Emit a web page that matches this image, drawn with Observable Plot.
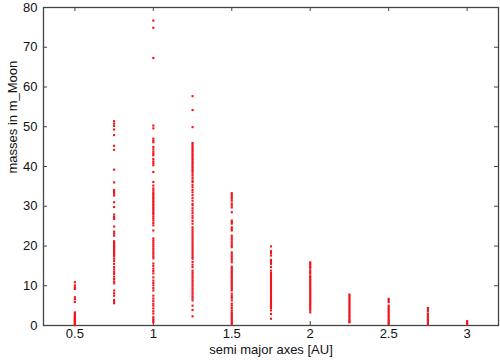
<!DOCTYPE html>
<html>
<head>
<meta charset="utf-8">
<script src="https://cdn.jsdelivr.net/npm/d3@7"></script>
<script src="https://cdn.jsdelivr.net/npm/@observablehq/plot@0.6"></script>
<style>
  html, body { margin: 0; padding: 0; background: #fff; }
  #chart { width: 500px; height: 360px; }
</style>
</head>
<body>
<div id="chart"></div>
<script>
// semi major axes (AU) and the masses (m_Moon) found at each
const axesAU = [0.5, 0.75, 1, 1.25, 1.5, 1.75, 2, 2.25, 2.5, 2.75, 3];

const m050 = [10.9, 10.1, 9.6, 9.2, 7.1, 6.6, 5.9, 3.3, 3.0, 2.7, 2.5, 2.2, 2.0, 1.8, 1.6, 1.4, 1.2, 1.0, 0.8, 0.6, 0.4, 0.2, 0.1];
const m075 = [51.4, 50.8, 50.2, 49.3, 47.9, 45.2, 44.2, 39.2, 36.0, 34.1, 33.6, 33.2, 32.7, 31.0, 29.8, 27.9, 27.3, 26.8, 24.9, 23.6, 23.1, 22.6, 21.2, 20.9, 20.6, 20.2, 19.9, 19.6, 19.2, 18.9, 18.5, 18.1, 17.8, 17.4, 16.8, 16.2, 15.5, 14.7, 14.1, 13.5, 13.0, 12.3, 11.7, 11.1, 10.6, 8.8, 8.1, 7.5, 6.4, 6.0, 5.6];
const m100 = [76.7, 74.9, 67.3, 50.3, 49.6, 47.0, 46.5, 46.1, 44.9, 44.3, 43.7, 43.2, 42.8, 41.9, 41.3, 40.8, 40.3, 38.6, 36.1, 35.2, 34.5, 34.0, 33.5, 33.1, 32.7, 32.3, 31.9, 31.5, 31.1, 30.7, 30.3, 29.9, 29.5, 29.1, 28.7, 28.3, 27.9, 27.4, 26.9, 26.4, 25.8, 25.2, 23.9, 21.9, 21.4, 20.9, 20.4, 19.9, 19.4, 18.9, 18.4, 17.9, 17.4, 16.9, 15.6, 15.0, 14.3, 13.7, 13.1, 12.1, 11.3, 10.7, 10.1, 9.4, 8.8, 7.5, 6.8, 6.2, 5.5, 5.0, 4.3, 3.6, 3.0, 2.1, 1.6, 1.2, 0.8];
const m125 = [57.7, 54.2, 49.9, 45.9, 45.5, 45.1, 44.7, 44.3, 43.9, 43.5, 43.1, 42.7, 42.3, 41.9, 41.5, 41.1, 40.7, 40.3, 39.9, 39.5, 39.1, 38.7, 38.2, 37.7, 37.1, 36.5, 36.1, 35.4, 34.8, 34.1, 33.5, 32.8, 32.1, 31.4, 30.6, 30.2, 29.5, 28.9, 28.3, 27.6, 27.0, 26.3, 25.6, 24.7, 24.2, 23.7, 23.2, 22.7, 22.2, 21.7, 21.2, 20.7, 20.2, 19.7, 19.2, 18.7, 18.2, 17.7, 17.2, 16.8, 16.0, 15.3, 14.7, 13.8, 13.3, 12.8, 12.3, 11.8, 11.3, 10.8, 10.3, 9.8, 9.3, 8.8, 8.3, 7.8, 7.3, 6.8, 6.3, 5.0, 3.9, 2.3];
const m150 = [33.3, 32.8, 32.3, 31.9, 31.4, 30.7, 30.2, 29.7, 28.5, 26.4, 26.0, 25.6, 24.7, 24.3, 23.9, 22.6, 22.1, 21.6, 21.1, 20.6, 20.1, 19.7, 18.4, 17.9, 17.4, 16.9, 16.4, 15.9, 14.8, 14.4, 14.0, 13.6, 13.2, 12.8, 12.4, 12.0, 11.6, 11.2, 10.8, 10.4, 10.0, 9.6, 9.2, 8.8, 8.0, 7.4, 6.9, 6.3, 5.5, 5.0, 4.4, 3.8, 3.3, 3.0, 2.6, 2.2, 1.8, 1.4, 1.0, 0.6, 0.2];
const m175 = [19.9, 18.7, 18.2, 17.6, 16.5, 16.0, 15.5, 14.7, 13.8, 13.2, 12.8, 12.4, 12.0, 11.6, 11.2, 10.8, 10.4, 10.0, 9.6, 9.2, 8.8, 8.4, 8.0, 7.6, 7.2, 6.8, 6.4, 6.0, 5.6, 5.2, 4.8, 4.4, 3.8, 2.9, 1.7];
const m200 = [15.9, 15.5, 15.1, 14.7, 14.3, 13.7, 13.2, 12.6, 12.2, 11.8, 11.4, 11.0, 10.6, 10.2, 9.8, 9.4, 9.0, 8.6, 8.2, 7.8, 7.4, 7.0, 6.6, 6.2, 5.8, 5.4, 5.0, 4.6, 4.2, 3.8, 3.3];
const m225 = [7.8, 7.4, 7.0, 6.6, 6.2, 5.8, 5.4, 5.0, 4.6, 4.2, 3.8, 3.4, 3.0, 2.6, 2.2, 1.8, 1.4, 1.0, 0.8];
const m250 = [6.7, 6.3, 5.9, 5.0, 4.6, 4.2, 3.8, 3.4, 3.0, 2.6, 2.2, 1.8, 1.4, 1.0, 0.6, 0.4];
const m275 = [4.4, 4.0, 3.6, 3.0, 2.6, 2.2, 1.8, 1.4, 1.0, 0.6, 0.2];
const m300 = [1.1, 0.8, 0.5, 0.2];

const massLists = [m050, m075, m100, m125, m150, m175, m200, m225, m250, m275, m300];

const xTicks = [0.5, 1, 1.5, 2, 2.5, 3];
const yTicks = [0, 10, 20, 30, 40, 50, 60, 70, 80];
const xLabel = "semi major axes [AU]";
const yLabel = "masses in m_Moon";

const rows = axesAU.flatMap((a, i) => massLists[i].map(m => ({a, m})));

const font = "'Liberation Sans', Arial, Helvetica, sans-serif";
const axisColor = "#444";
const W = 500, H = 360, mL = 43, mR = 2, mT = 7, mB = 35;
const tickLen = 4;
const frameW = W - mL - mR, frameH = H - mT - mB;

const chart = Plot.plot({
  width: W,
  height: H,
  marginLeft: mL,
  marginRight: mR,
  marginTop: mT,
  marginBottom: mB,
  style: {fontFamily: font, fontSize: "13px", color: "#111", background: "#fff"},
  x: {domain: [0.3, 3.2], ticks: xTicks},
  y: {domain: [0, 80], ticks: yTicks},
  marks: [
    // inward ticks on all four sides
    Plot.ruleX(xTicks, {x: d => d, insetTop: frameH - tickLen, stroke: axisColor}),
    Plot.ruleX(xTicks, {x: d => d, insetBottom: frameH - tickLen, stroke: axisColor}),
    Plot.ruleY(yTicks, {y: d => d, insetRight: frameW - tickLen, stroke: axisColor}),
    Plot.ruleY(yTicks, {y: d => d, insetLeft: frameW - tickLen, stroke: axisColor}),
    Plot.axisX({anchor: "bottom", ticks: xTicks, tickSize: 0, tickPadding: 3,
      tickFormat: d => String(d), label: null, fontSize: 13}),
    Plot.axisY({anchor: "left", ticks: yTicks, tickSize: 0, tickPadding: 6,
      tickFormat: d => String(d), label: null, fontSize: 13}),
    Plot.frame({stroke: axisColor, strokeWidth: 1.3}),
    Plot.text([xLabel], {frameAnchor: "bottom", dy: 28, text: d => d, fontSize: 13, fill: "#111"}),
    Plot.text([yLabel], {frameAnchor: "left", dx: -31, dy: 7, rotate: -90, text: d => d, fontSize: 13, fill: "#111"}),
    Plot.dot(rows, {x: "a", y: "m", symbol: "square", r: 1.2, fill: "#f2141c", stroke: "none"})
  ]
});

document.getElementById("chart").appendChild(chart);
</script>
</body>
</html>
